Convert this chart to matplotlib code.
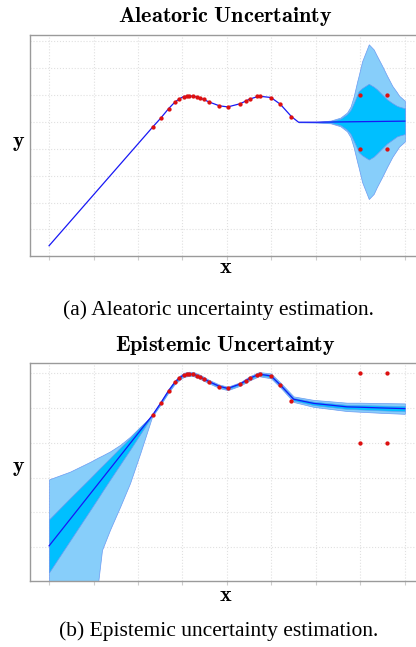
import matplotlib
matplotlib.use('Agg')
import numpy as np
import matplotlib.pyplot as plt

plt.rcParams['mathtext.fontset'] = 'cm'

# observed training points (same in both panels)
x_obs = [2.33, 2.51, 2.69, 2.83, 2.93, 3.03, 3.10, 3.14, 3.23, 3.33, 3.40, 3.49,
         3.59, 3.83, 4.02, 4.30, 4.42, 4.51, 4.68, 4.75, 4.99, 5.20, 5.45,
         7.0, 7.6, 7.0, 7.6]
y_obs = [3.81, 4.14, 4.50, 4.74, 4.85, 4.94, 4.96, 4.96, 4.96, 4.93, 4.89, 4.84,
         4.75, 4.60, 4.56, 4.68, 4.78, 4.85, 4.95, 4.96, 4.91, 4.66, 4.20,
         5.0, 5.0, 3.0, 3.0]

# aleatoric model: mean prediction
x_ale = [0, 2.33, 2.51, 2.69, 2.83, 2.93, 3.03, 3.15, 3.25, 3.40, 3.59, 3.83,
         4.02, 4.30, 4.51, 4.72, 4.99, 5.20, 5.45, 5.61, 6.0, 6.5, 7.0, 7.5, 8.0]
y_ale = [-0.61, 3.81, 4.14, 4.50, 4.74, 4.86, 4.95, 4.97, 4.96, 4.89, 4.75, 4.60,
         4.56, 4.68, 4.85, 4.96, 4.91, 4.66, 4.20, 3.99, 3.99, 4.0, 4.01, 4.02, 4.03]

# aleatoric band (right side only)
x_ale_band = [5.61, 6.0, 6.33, 6.55, 6.70, 6.78, 6.85, 6.93, 6.96, 7.04, 7.19,
              7.30, 7.37, 7.49, 7.60, 7.72, 7.82, 7.87, 8.0]
ale_center = [3.99, 3.99, 4.0, 4.0, 4.0, 4.0, 4.0, 4.01, 4.01, 4.01, 4.01,
              4.01, 4.02, 4.02, 4.02, 4.02, 4.03, 4.03, 4.03]
ale_outer = [0, 0.01, 0.05, 0.16, 0.35, 0.57, 0.95, 1.51, 1.70, 2.25, 2.88,
             2.69, 2.45, 2.07, 1.70, 1.32, 1.08, 0.95, 0.76]
ale_inner = [0, 0.005, 0.03, 0.12, 0.29, 0.45, 0.70, 1.00, 1.13, 1.25, 1.41,
             1.30, 1.20, 1.00, 0.82, 0.68, 0.57, 0.54, 0.48]

# epistemic model: mean prediction
x_epi = [0, 2.33, 2.51, 2.69, 2.83, 2.93, 3.03, 3.15, 3.25, 3.40, 3.59, 3.83,
         4.02, 4.30, 4.51, 4.72, 4.99, 5.20, 5.50, 5.95, 6.33, 6.70, 7.0, 7.45, 8.0]
y_epi = [0.04, 3.80, 4.14, 4.50, 4.74, 4.86, 4.95, 4.98, 4.97, 4.89, 4.76, 4.62,
         4.56, 4.69, 4.85, 4.97, 4.92, 4.66, 4.25, 4.13, 4.08, 4.03, 4.02, 4.0, 3.98]
epi_outer = [0.03, 0.04, 0.05, 0.05, 0.06, 0.06, 0.06, 0.06, 0.06, 0.05, 0.05,
             0.05, 0.05, 0.06, 0.06, 0.07, 0.07, 0.08, 0.10, 0.11, 0.12, 0.13, 0.14, 0.15]
epi_inner = [0.015, 0.02, 0.025, 0.025, 0.03, 0.03, 0.03, 0.03, 0.03, 0.025, 0.025,
             0.025, 0.025, 0.03, 0.03, 0.035, 0.035, 0.04, 0.05, 0.055, 0.06, 0.065, 0.07, 0.075]

# epistemic band on the left (extrapolation region)
x_epi_left = [0, 0.47, 0.92, 1.11, 1.19, 1.37, 1.60, 1.82, 2.05, 2.33]
epi_left_mean = [0.04, 0.80, 1.52, 1.83, 1.96, 2.25, 2.62, 2.97, 3.35, 3.80]
epi_left_upper = [1.95, 2.17, 2.45, 2.58, 2.63, 2.75, 2.94, 3.17, 3.46, 3.80]
epi_left_lower = [-6.0, -4.6, -2.6, -0.94, -0.08, 0.50, 1.17, 1.84, 2.70, 3.80]
epi_left_inner = [0.76, 0.61, 0.46, 0.40, 0.37, 0.31, 0.24, 0.17, 0.10, 0.0]

light = '#87cefa'
deep = '#00bfff'
edge = '#6a9af2'
line_c = '#1818f5'
dot_c = '#dd1010'

fig = plt.figure(figsize=(4.16, 6.47), dpi=100)
ax1 = fig.add_axes([0.072, 0.604, 0.93, 0.342])
ax2 = fig.add_axes([0.072, 0.1025, 0.93, 0.337])


def style(ax, ylim, yticks):
    ax.set_xlim(-0.43, 8.27)
    ax.set_ylim(*ylim)
    ax.set_xticks(range(9))
    ax.set_yticks(yticks)
    ax.grid(True, color='#e0e0e0', linestyle=':', linewidth=0.8)
    ax.set_axisbelow(True)
    for s in ['left', 'bottom', 'top']:
        ax.spines[s].set_color('#9a9a9a')
        ax.spines[s].set_linewidth(1.0)
    ax.spines['right'].set_visible(False)
    ax.tick_params(axis='x', direction='out', length=3, color='#cccccc', labelbottom=False)
    ax.tick_params(axis='y', length=0, labelleft=False)


# top panel
c = np.array(ale_center)
ax1.fill_between(x_ale_band, c - np.array(ale_outer), c + np.array(ale_outer),
                 facecolor=light, edgecolor=edge, linewidth=0.5, zorder=2)
ax1.fill_between(x_ale_band, c - np.array(ale_inner), c + np.array(ale_inner),
                 facecolor=deep, edgecolor=edge, linewidth=0.5, zorder=3)
ax1.plot(x_ale, y_ale, color=line_c, linewidth=0.9, zorder=4)
ax1.plot(x_obs, y_obs, 'o', color=dot_c, markersize=3.1, markeredgewidth=0, zorder=5)
style(ax1, (-1.0, 7.24), range(8))

# bottom panel
m = np.array(epi_left_mean)
ax2.fill_between(x_epi_left, epi_left_lower, epi_left_upper,
                 facecolor=light, edgecolor=edge, linewidth=0.5, zorder=2)
ax2.fill_between(x_epi_left, m - np.array(epi_left_inner), m + np.array(epi_left_inner),
                 facecolor=deep, edgecolor=edge, linewidth=0.5, zorder=3)
ye = np.array(y_epi[1:])
ax2.fill_between(x_epi[1:], ye - np.array(epi_outer), ye + np.array(epi_outer),
                 facecolor=light, edgecolor=edge, linewidth=0.5, zorder=2)
ax2.fill_between(x_epi[1:], ye - np.array(epi_inner), ye + np.array(epi_inner),
                 facecolor=deep, edgecolor=edge, linewidth=0.4, zorder=3)
ax2.plot(x_epi, y_epi, color=line_c, linewidth=0.9, zorder=4)
ax2.plot(x_obs, y_obs, 'o', color=dot_c, markersize=3.1, markeredgewidth=0, zorder=5)
style(ax2, (-0.96, 5.30), range(6))

# titles, labels and captions
fig.text(0.541, 0.974, r'$\mathbf{Aleatoric\ Uncertainty}$', ha='center', va='center', fontsize=16)
fig.text(0.541, 0.466, r'$\mathbf{Epistemic\ Uncertainty}$', ha='center', va='center', fontsize=16)
for yy in [0.587, 0.080]:
    fig.text(0.543, yy, r'$\mathbf{x}$', ha='center', va='center', fontsize=16)
fig.text(0.045, 0.779, r'$\mathbf{y}$', ha='center', va='center', fontsize=16)
fig.text(0.045, 0.277, r'$\mathbf{y}$', ha='center', va='center', fontsize=16)
fig.text(0.526, 0.521, '(a) Aleatoric uncertainty estimation.', ha='center', va='center',
         fontsize=15.5, family='Liberation Serif')
fig.text(0.526, 0.024, '(b) Epistemic uncertainty estimation.', ha='center', va='center',
         fontsize=15.5, family='Liberation Serif')

fig.savefig('out.png', dpi=100)
